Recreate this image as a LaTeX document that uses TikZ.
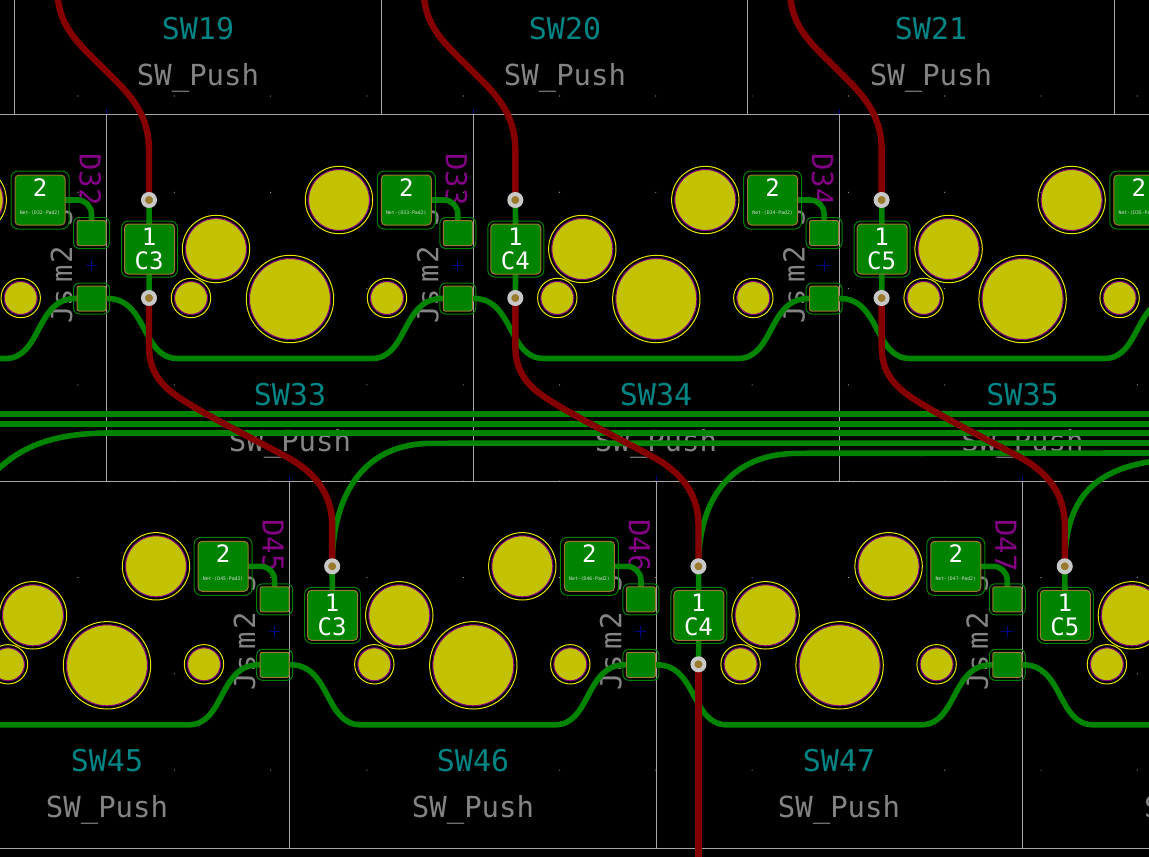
\documentclass[tikz,border=0pt]{standalone}
\usepackage{fontspec}
\setmonofont{DejaVu Sans Mono}

\definecolor{cuF}{HTML}{008400}
\definecolor{cuB}{HTML}{840000}
\definecolor{holeY}{HTML}{C2C200}
\definecolor{holeO}{HTML}{E6E600}
\definecolor{holeM}{HTML}{840084}
\definecolor{silkT}{HTML}{008484}
\definecolor{silkG}{HTML}{848484}
\definecolor{edgeG}{HTML}{A6A6A6}
\definecolor{padE}{HTML}{9A7B2E}
\definecolor{viaG}{HTML}{C8C8C8}
\definecolor{markB}{HTML}{000084}

\pgfdeclarelayer{under}
\pgfdeclarelayer{tracks}
\pgfsetlayers{under,tracks,main}

\tikzset{
    swname/.style={text=silkT, anchor=base, inner sep=0, font=\fontsize{30}{30}\ttfamily},
    swvalue/.style={text=silkG, anchor=base, inner sep=0, font=\fontsize{29}{29}\ttfamily},
    dname/.style={text=holeM, anchor=base west, rotate=-90, inner sep=0, font=\fontsize{29}{29}\ttfamily},
    dvalue/.style={text=silkG, anchor=base west, rotate=90, inner sep=0, font=\fontsize{29}{29}\ttfamily},
    keepout/.style={draw=cuF, line width=1pt, rounded corners=7pt, inner sep=0, outer sep=0},
    padbox/.style={fill=cuF, draw=padE, line width=1pt, rounded corners=4pt, inner sep=0, outer sep=0},
    padtext/.style={text=white, anchor=base, inner sep=0, font=\fontsize{24}{24}\ttfamily},
    nettext/.style={text=white!85!black, anchor=base, inner sep=0, font=\fontsize{4.8}{5}\ttfamily},
    viahole/.style={circle, fill=padE, draw=viaG, line width=4pt, minimum size=12pt, inner sep=0, outer sep=0},
    top/.style={draw=cuF, line width=5.6pt},
    bot/.style={draw=cuB, line width=6.4pt},
}

% holes of one switch, #1 #2 = middle of the big one
\newcommand{\swholes}[2]{
    \foreach \hx/\hy/\hr in {-99/-1/16.5, 97/-1/16.5, -74/-50/30.5, 49/-99/30.5, 0/0/40.5} {
        \draw[holeO, line width=1pt] (#1+\hx,#2+\hy) circle (\hr+3.2);
        \draw[holeM, line width=1pt, fill=holeY] (#1+\hx,#2+\hy) circle (\hr);
    }
}

% pads of one diode and capacitor net: #1 name, #2 #3 shift, #4 cap text, #5 diode, #6 net
\newcommand{\padgroup}[6]{
    \begin{scope}[shift={(#2,#3)}]
        \node[keepout, minimum width=58pt, minimum height=58pt] (p2k#1) at (40,200) {};
        \node[padbox, minimum width=50pt, minimum height=50pt] (p2#1) at (40,200) {};
        \node[padtext] (p2n#1) at (40,196.5) {2};
        \node[nettext] (p2t#1) at (40,214) {#6};
        \foreach \dn/\dy in {dt/233, db/298.5} {
            \node[keepout, minimum width=36pt, minimum height=31pt, rounded corners=6pt] (\dn k#1) at (91.5,\dy) {};
            \node[padbox, minimum width=29pt, minimum height=25pt, rounded corners=2pt] (\dn#1) at (91.5,\dy) {};
        }
        \node[keepout, minimum width=56pt, minimum height=56pt] (c1k#1) at (149.5,249) {};
        \node[padbox, minimum width=50pt, minimum height=50pt] (c1#1) at (149.5,249) {};
        \node[padtext] (c1n#1) at (149,245) {1};
        \node[padtext] (c1t#1) at (149,269) {#4};
        \node[viahole] (vt#1) at (149,200) {};
        \begin{pgfonlayer}{under}
            \node[dname] (dn#1) at (79.5,153) {#5};
            \node[dvalue] (dv#1) at (72,324) {Js\kern6pt m\kern2pt 2\_\kern2pt S};
            \draw[markB, line width=.8pt] (85.5,265.5) -- (97,265.5) (91.3,260) -- (91.3,271);
        \end{pgfonlayer}
    \end{scope}
}

\begin{document}
\begin{tikzpicture}[x=1pt, y=-1pt]
    \useasboundingbox (0,0) rectangle (1149,857);

    \begin{pgfonlayer}{under}
        \fill[black] (0,0) rectangle (1149,857);
        \foreach \gx in {0,...,11} \foreach \gy in {0,...,7}
            \fill[edgeG] (78+96.3*\gx,96+96.3*\gy) circle (.6);

        \draw[edgeG, line width=.9pt] (-2,114) -- (1151,114) (-2,481) -- (1151,481) (-2,848) -- (1151,848);
        \foreach \vx in {14.5,381,747.5,1114} \draw[edgeG, line width=.9pt] (\vx,-2) -- (\vx,114);
        \foreach \vx in {106.5,473,839} {
            \draw[edgeG, line width=.9pt] (\vx,114) -- (\vx,481);
            \draw[markB, line width=.8pt] (\vx,109) -- (\vx,114);
        }
        \foreach \vx in {289.8,656,1022.3} {
            \draw[edgeG, line width=.9pt] (\vx,481) -- (\vx,848);
            \draw[markB, line width=.8pt] (\vx,476) -- (\vx,481);
        }

        \foreach \sx/\sn/\sy in {198/SW19/39, 565/SW20/39, 931/SW21/39,
                290/SW33/405.5, 656/SW34/405.5, 1022.5/SW35/405.5,
                107/SW45/771.8, 473/SW46/771.8, 839/SW47/771.8} {
            \node[swname] (\sn) at (\sx,\sy) {\sn};
            \node[swvalue] (\sn v) at (\sx,\sy+46) {SW\_Push};
        }
        % next one, only its first letter shows
        \node[swvalue] (SW48v) at (1205.3,817.8) {SW\_Push};
    \end{pgfonlayer}

    \foreach \k in {-1,0,1,2} {\swholes{290+366.3*\k}{299}}
    \foreach \k in {0,1,2,3} {\swholes{107+366.3*\k}{665.3}}

    \padgroup{a}{0}{0}{C3}{D32}{Net-(D32-Pad2)}
    \padgroup{b}{366.3}{0}{C4}{D33}{Net-(D33-Pad2)}
    \padgroup{c}{732.6}{0}{C5}{D34}{Net-(D34-Pad2)}
    \padgroup{d}{183.15}{366.3}{C3}{D45}{Net-(D45-Pad2)}
    \padgroup{e}{549.45}{366.3}{C4}{D46}{Net-(D46-Pad2)}
    \padgroup{f}{915.75}{366.3}{C5}{D47}{Net-(D47-Pad2)}

    % last pad on the right edge
    \node[keepout, minimum width=58pt, minimum height=58pt] (p2kg) at (1138.9,200) {};
    \node[padbox, minimum width=50pt, minimum height=50pt] (p2g) at (1138.9,200) {};
    \node[padtext] (p2ng) at (1138.9,196.5) {2};
    \node[nettext] (p2tg) at (1138.9,214) {Net-(D35-Pad2)};

    \node[viahole] (vba) at (149,298) {};
    \node[viahole] (vbb) at (515.3,298) {};
    \node[viahole] (vbc) at (881.6,298) {};
    \node[viahole] (vbe) at (698.45,664.3) {};

    \coordinate (dbz) at (-274.8,298.5);
    \coordinate (dby) at (1190.4,298.5);
    \coordinate (dbx) at (-91.65,664.8);
    \coordinate (dbw) at (1373.55,664.8);
    \coordinate (busa) at (-5,414);
    \coordinate (busb) at (-5,424);
    \coordinate (busc) at (-5,472);
    \coordinate (busend) at (1154,424);
    \coordinate (redout) at (698.45,862);

    \begin{pgfonlayer}{tracks}
        \foreach \n in {a,b,c,d,e,f} {
            \draw[top, rounded corners=14pt] (p2\n.center) -- (p2\n.center -| dt\n.center) -- (dt\n.center);
            \draw[top] (vt\n) -- (c1\n);
        }
        \foreach \s/\t in {z/a, a/b, b/c, c/y, x/d, d/e, e/f, f/w}
            \draw[top] (db\s) -- ++(16,0) .. controls +(40,0) and +(-36,0) .. ++(70,60)
                -- ++(194.3,0) .. controls +(36,0) and +(-40,0) .. ++(70,-60) -- (db\t);
        \foreach \n in {a,b,c} \draw[top] (c1\n) -- (vb\n);
        \draw[top] (c1e) -- (vbe);

        % bus
        \draw[top] (busa) -- (busa -| busend);
        \draw[top] (busb) -- (busend);
        \draw[top] (busc) .. controls (20,448) and (50,433) .. (110,433) -- (1154,433);
        \draw[top] (vtd.center) .. controls +(0,-70) and +(-70,0) .. ++(100,-123) -- (1154,443);
        \draw[top] (vte.center) .. controls +(0,-65) and +(-70,0) .. ++(100,-113) -- (1154,453);
        \draw[top] (vtf.center) .. controls +(0,-80) and +(-95,0) .. ++(135,-108);

        \foreach \n in {a,b,c}
            \draw[bot] (vt\n.center) -- ++(0,-50) .. controls +(0,-40) and +(22,22) .. ++(-46,-82)
                .. controls +(-23,-23) and +(4,30) .. ++(-45,-68) -- ++(-1,-6);
        \foreach \s/\t in {a/d, b/e, c/f}
            \draw[bot] (vb\s.center) -- ++(0,47) .. controls +(0,20) and +(-15,-13) .. ++(21,46)
                .. controls +(20,16) and +(-45,-24) .. ++(115,65)
                .. controls +(25,13) and +(0,-35) .. ++(47.15,69) -- (vt\t.center);
        \draw[bot] (vbe.center) -- (redout);
    \end{pgfonlayer}
\end{tikzpicture}
\end{document}
